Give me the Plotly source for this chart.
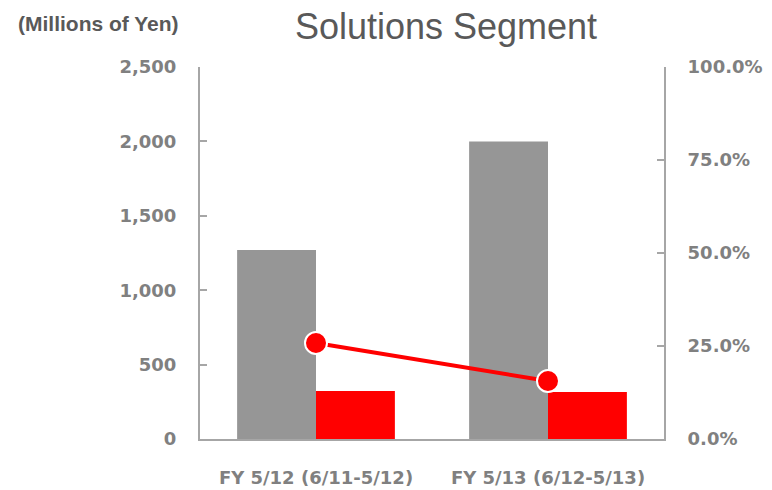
import plotly.graph_objects as go

categories = ["FY 5/12 (6/11-5/12)", "FY 5/13 (6/12-5/13)"]
net_sales = [1270, 2000]
operating_income = [323, 316]
operating_margin = [0.258, 0.156]

left_ticks = [0, 500, 1000, 1500, 2000, 2500]
right_ticks = [0, 0.25, 0.5, 0.75, 1.0]

tick_font = dict(family="DejaVu Sans", size=18, color="#808080", weight="bold")
axis_col = "#A6A6A6"

fig = go.Figure()
fig.add_trace(go.Bar(x=categories, y=net_sales, marker=dict(color="#969696", line=dict(width=0)),
                     name="Net Sales"))
fig.add_trace(go.Bar(x=categories, y=operating_income, marker=dict(color="#FF0000", line=dict(width=0)),
                     name="Operating Income"))
fig.add_trace(go.Scatter(x=categories, y=operating_margin, yaxis="y2", mode="lines+markers",
                         line=dict(color="#FF0000", width=4),
                         marker=dict(size=22, color="#FF0000", line=dict(color="white", width=2)),
                         name="Margin"))

fig.update_layout(
    width=772, height=490,
    margin=dict(l=200, r=108, t=67, b=51),
    paper_bgcolor="white", plot_bgcolor="white",
    barmode="group", bargap=0.32, bargroupgap=0,
    showlegend=False,
    title=dict(text="Solutions Segment", x=446/772, xanchor="center", xref="container",
               y=1-26/490, yanchor="middle", yref="container",
               font=dict(family="Liberation Sans", size=36, color="#595959")),
    xaxis=dict(showline=True, linecolor=axis_col, linewidth=2, ticks="", showgrid=False,
               tickfont=tick_font, ticklabelstandoff=21, automargin=False),
    yaxis=dict(range=[0, 2500], tickvals=left_ticks, tickformat=",", showline=True,
               linecolor=axis_col, linewidth=2, ticks="inside", ticklen=7, tickcolor=axis_col,
               tickwidth=2, showgrid=False, zeroline=False, tickfont=tick_font,
               ticklabelstandoff=18, automargin=False),
    yaxis2=dict(range=[0, 1], tickvals=right_ticks, tickformat=".1%", overlaying="y", side="right",
                showline=True, linecolor=axis_col, linewidth=2, ticks="inside", ticklen=7,
                tickcolor=axis_col, tickwidth=2, showgrid=False, zeroline=False, tickfont=tick_font,
                ticklabelstandoff=18, automargin=False),
    annotations=[dict(text="(Millions of Yen)", xref="paper", yref="paper",
                      x=(16-200)/464, y=(439-23)/372, xanchor="left", yanchor="middle",
                      showarrow=False,
                      font=dict(family="Liberation Sans", size=21, color="#595959", weight="bold"))],
)

fig.write_html("out.html")
